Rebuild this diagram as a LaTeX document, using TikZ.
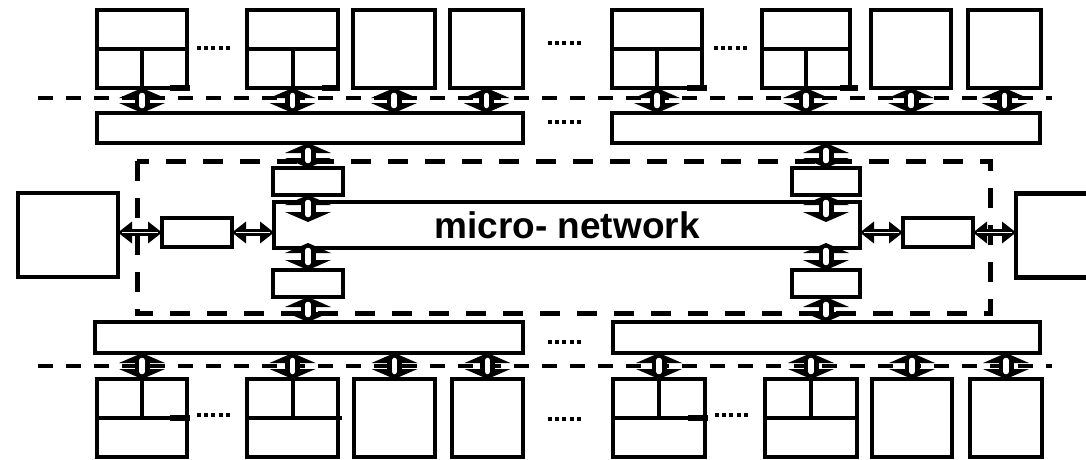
\documentclass[tikz,border=0pt]{standalone}
\usepackage{fontspec}
\setmainfont{Liberation Sans}
\usetikzlibrary{arrows.meta,positioning}

\begin{document}
\begin{tikzpicture}[
  x=1pt, y=-1pt,
  unit/.style={draw, line width=4.2pt, inner sep=0pt, outer sep=0pt, minimum height=78pt},
  bus/.style={draw, line width=3.5pt, inner sep=0pt, outer sep=0pt, minimum height=30pt},
  port/.style={draw, line width=4.5pt, inner sep=0pt, outer sep=0pt, minimum width=70pt, minimum height=27pt},
  host/.style={draw, line width=4.5pt, inner sep=0pt, outer sep=0pt, minimum height=84pt},
  split/.style={line width=4pt},
  tail/.style={line width=5.5pt},
  ell/.style={line width=4pt, dash pattern=on 4pt off 3.2pt},
  sep/.style={line width=4pt, dash pattern=on 15pt off 13pt},
  frame/.style={line width=5pt, dash pattern=on 20pt off 17pt},
  link/.style={line width=15pt, {Triangle[width=46pt,length=10pt,line width=0pt]}-{Triangle[width=46pt,length=10pt,line width=0pt]},
    postaction={draw=white, -, line width=5.5pt, line cap=round, shorten <=7.5pt, shorten >=7.5pt}},
  hlink/.style={line width=7pt, {Triangle[width=22pt,length=14pt,line width=0pt]}-{Triangle[width=22pt,length=14pt,line width=0pt]},
    postaction={draw=white, -, line width=1.5pt, shorten <=4pt, shorten >=4pt}}
]
  \useasboundingbox (0,0) rectangle (1086,460);

  % upper units
  \node[unit, minimum width=90pt] (t1) at (142,49) {};
  \node[unit, minimum width=91pt] (t2) at (292.5,49) {};
  \node[unit, minimum width=82pt] (t3) at (394,49) {};
  \node[unit, minimum width=73pt] (t4) at (486.5,49) {};
  \node[unit, minimum width=90pt] (t5) at (657,49) {};
  \node[unit, minimum width=88pt] (t6) at (806,49) {};
  \node[unit, minimum width=80pt] (t7) at (911,49) {};
  \node[unit, minimum width=73pt] (t8) at (1004.5,49) {};

  % lower units
  \node[unit, minimum width=90pt] (b1) at (142,418) {};
  \node[unit, minimum width=91pt] (b2) at (292.5,418) {};
  \node[unit, minimum width=81pt] (b3) at (394.5,418) {};
  \node[unit, minimum width=71pt] (b4) at (487.5,418) {};
  \node[unit, minimum width=92pt] (b5) at (659,418) {};
  \node[unit, minimum width=92pt] (b6) at (811,418) {};
  \node[unit, minimum width=80pt] (b7) at (912,418) {};
  \node[unit, minimum width=72pt] (b8) at (1006,418) {};

  % buses
  \node[bus, minimum width=426pt] (bus1) at (310,128) {};
  \node[bus, minimum width=428pt] (bus2) at (826,128) {};
  \node[bus, minimum width=428pt, minimum height=31pt] (bus3) at (309,337.5) {};
  \node[bus, minimum width=427pt, minimum height=31pt] (bus4) at (826.5,337.5) {};

  % network and its ports
  \node[bus, minimum width=586pt, minimum height=46pt, font=\bfseries\fontsize{37}{40}\selectfont] (micro) at (567,225) {micro- network};
  \node[port] (ifl1) at (308,181.5) {};
  \node[port] (ifl2) at (308,283.5) {};
  \node[port, minimum width=68pt] (ifr1) at (826,181.5) {};
  \node[port, minimum width=68pt] (ifr2) at (826,283.5) {};
  \node[port, minimum height=29pt] (lsm) at (197,232.5) {};
  \node[port, minimum height=29pt] (rsm) at (938,232.5) {};
  \node[host, minimum width=100pt] (lbox) at (68,235) {};
  \node[host, minimum width=100pt] (rbox) at (1066,235.5) {};
  \coordinate (ml1) at ([yshift=-27pt]ifl1.south);
  \coordinate (ml2) at ([yshift=27pt]ifl2.north);
  \coordinate (mr1) at ([yshift=-27pt]ifr1.south);
  \coordinate (mr2) at ([yshift=27pt]ifr2.north);

  % unit partitions
  \draw[split] (t1.west) -- (t1.east) (t1.center) -- (t1.south);
  \draw[split] (t2.west) -- (t2.east) (t2.center) -- (t2.south);
  \draw[split] (t5.west) -- (t5.east) (t5.center) -- (t5.south);
  \draw[split] (t6.west) -- (t6.east) (t6.center) -- (t6.south);
  \draw[split] (b1.west) -- (b1.east) (b1.north) -- (b1.center);
  \draw[split] (b2.west) -- ([xshift=4pt]b2.east) (b2.north) -- (b2.center);
  \draw[split] (b5.west) -- (b5.east) (b5.north) -- (b5.center);
  \draw[split] (b6.west) -- ([xshift=2pt]b6.east) (b6.north) -- (b6.center);
  \draw[tail] ([xshift=-17pt]t1.south east) -- ([xshift=3pt]t1.south east);
  \draw[tail] ([xshift=-16pt]t2.south east) -- ([xshift=2pt]t2.south east);
  \draw[tail] ([xshift=-15pt]t5.south east) -- ([xshift=5pt]t5.south east);
  \draw[tail] ([xshift=-10pt]t6.south east) -- ([xshift=8pt]t6.south east);
  \draw[tail] ([xshift=-17pt]b1.east) -- ([xshift=3pt]b1.east);
  \draw[tail] ([xshift=-17pt]b5.east) -- ([xshift=3pt]b5.east);

  % ellipses
  \draw[ell] (197,48) -- ++(33,0);
  \draw[ell] (548,43) -- ++(33,0);
  \draw[ell] (714,48) -- ++(33,0);
  \draw[ell] (548,122) -- ++(33,0);
  \draw[ell] (548,342) -- ++(33,0);
  \draw[ell] (197,415) -- ++(33,0);
  \draw[ell] (548,419) -- ++(33,0);
  \draw[ell] (715,415) -- ++(33,0);

  % boundaries
  \draw[sep] (38,98) -- (1052,98);
  \draw[sep] (38,366) -- (1052,366);
  \draw[frame] (137,161) rectangle (990,313);

  % links
  \draw[link] (t1.south) -- (bus1.north -| t1.south);
  \draw[link] (t2.south) -- (bus1.north -| t2.south);
  \draw[link] (t3.south) -- (bus1.north -| t3.south);
  \draw[link] (t4.south) -- (bus1.north -| t4.south);
  \draw[link] (t5.south) -- (bus2.north -| t5.south);
  \draw[link] (t6.south) -- (bus2.north -| t6.south);
  \draw[link] (t7.south) -- (bus2.north -| t7.south);
  \draw[link] (t8.south) -- (bus2.north -| t8.south);
  \draw[link] (bus3.south -| b1.north) -- (b1.north);
  \draw[link] (bus3.south -| b2.north) -- (b2.north);
  \draw[link] (bus3.south -| b3.north) -- (b3.north);
  \draw[link] (bus3.south -| b4.north) -- (b4.north);
  \draw[link] (bus4.south -| b5.north) -- (b5.north);
  \draw[link] (bus4.south -| b6.north) -- (b6.north);
  \draw[link] (bus4.south -| b7.north) -- (b7.north);
  \draw[link] (bus4.south -| b8.north) -- (b8.north);
  \draw[link] (bus1.south -| ifl1.north) -- (ifl1.north);
  \draw[link] (ifl1.south) -- (ml1);
  \draw[link] (ml2) -- (ifl2.north);
  \draw[link] (ifl2.south) -- (bus3.north -| ifl2.south);
  \draw[link] (bus2.south -| ifr1.north) -- (ifr1.north);
  \draw[link] (ifr1.south) -- (mr1);
  \draw[link] (mr2) -- (ifr2.north);
  \draw[link] (ifr2.south) -- (bus4.north -| ifr2.south);
  \draw[hlink] (lbox.east |- lsm.west) -- (lsm.west);
  \draw[hlink] (lsm.east) -- (micro.west |- lsm.east);
  \draw[hlink] (micro.east |- rsm.west) -- (rsm.west);
  \draw[hlink] (rsm.east) -- (rbox.west |- rsm.east);
\end{tikzpicture}
\end{document}
